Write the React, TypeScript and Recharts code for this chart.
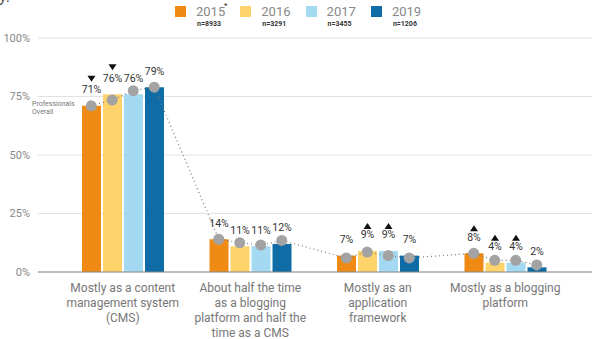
import React from "react";
import {
  ComposedChart,
  Bar,
  Line,
  XAxis,
  YAxis,
  CartesianGrid,
  LabelList,
} from "recharts";

const categories = [
  "Mostly as a content\nmanagement system\n(CMS)",
  "About half the time\nas a blogging\nplatform and half the\ntime as a CMS",
  "Mostly as an\napplication\nframework",
  "Mostly as a blogging\nplatform",
];

const years = ["2015", "2016", "2017", "2019"];
const sampleSizes = ["n=8933", "n=3291", "n=3455", "n=1206"];

const values2015 = [71, 14, 7, 8];
const values2016 = [76, 11, 9, 4];
const values2017 = [76, 11, 9, 4];
const values2019 = [79, 12, 7, 2];

// professionals overall (grey dots)
const overall2015 = [71, 14, 6, 8];
const overall2016 = [73.5, 12.5, 8.5, 5];
const overall2017 = [77.5, 11.5, 7, 5];
const overall2019 = [79, 13.5, 6, 3];

// significance markers above the labels
const markers2015 = ["down", "", "", "up"];
const markers2016 = ["down", "", "up", "up"];
const markers2017 = ["", "", "up", "up"];
const markers2019 = ["", "", "", ""];

const yTicks = [0, 25, 50, 75, 100];

const COLORS = ["#EF8A14", "#FED36B", "#A3DAF1", "#0F6CA6"];

const WIDTH = 600;
const HEIGHT = 339;
const MARGIN = { top: 38, right: 8, left: 0, bottom: 7 };
const Y_AXIS_WIDTH = 38;
const PAD = { left: 21, right: 23 };
const BAR_SIZE = 19;
const BAR_GAP = 2;
const BAND =
  (WIDTH - MARGIN.left - MARGIN.right - Y_AXIS_WIDTH - PAD.left - PAD.right) /
  categories.length;

const barData = categories.map((name, i) => ({
  name,
  y2015: values2015[i],
  y2016: values2016[i],
  y2017: values2017[i],
  y2019: values2019[i],
}));

const overallSeries = [overall2015, overall2016, overall2017, overall2019];
const dotData: { x: number; v: number }[] = [];
categories.forEach((_, g) => {
  overallSeries.forEach((series, s) => {
    dotData.push({
      x: g + 0.5 + ((s - 1.5) * (BAR_SIZE + BAR_GAP)) / BAND,
      v: series[g],
    });
  });
});

function CategoryTick({ x, y, payload }: any) {
  const lines = String(payload.value).split("\n");
  return (
    <text x={x} y={y} textAnchor="middle" fill="#777" fontSize={12}>
      {lines.map((l, i) => (
        <tspan key={i} x={x} dy={i === 0 ? 12 : 15}>
          {l}
        </tspan>
      ))}
    </text>
  );
}

const makeLabel = (markers: string[]) => (props: any) => {
  const x = Number(props.x);
  const y = Number(props.y);
  const w = Number(props.width);
  const cx = x + w / 2;
  const ty = y - 16;
  const m = markers[props.index];
  return (
    <g>
      <text
        x={cx}
        y={ty}
        textAnchor="middle"
        dominantBaseline="central"
        fontSize={10.5}
        fill="#333"
      >
        {props.value}%
      </text>
      {m === "down" && (
        <polygon
          points={`${cx - 4},${ty - 14} ${cx + 4},${ty - 14} ${cx},${ty - 8}`}
          fill="#111"
        />
      )}
      {m === "up" && (
        <polygon
          points={`${cx - 4},${ty - 6} ${cx + 4},${ty - 6} ${cx},${ty - 12}`}
          fill="#111"
        />
      )}
    </g>
  );
};

const seriesKeys = ["y2015", "y2016", "y2017", "y2019"];
const seriesMarkers = [markers2015, markers2016, markers2017, markers2019];

function LegendRow() {
  return (
    <div style={{ position: "absolute", top: 0, left: 175, display: "flex" }}>
      {years.map((yr, i) => (
        <div key={yr} style={{ position: "relative", width: 65.3, height: 32 }}>
          <div
            style={{
              position: "absolute",
              left: 0,
              top: 6,
              width: 11,
              height: 11,
              background: COLORS[i],
            }}
          />
          <div
            style={{
              position: "absolute",
              left: 21,
              top: 3,
              fontSize: 13,
              lineHeight: "18px",
              color: "#888",
            }}
          >
            {yr}
            {i === 0 && (
              <span style={{ position: "absolute", left: 28, top: -6, fontSize: 8, color: "#222" }}>
                *
              </span>
            )}
          </div>
          <div
            style={{
              position: "absolute",
              left: 22,
              top: 20,
              fontSize: 7,
              fontWeight: 700,
              lineHeight: "8px",
              color: "#333",
            }}
          >
            {sampleSizes[i]}
          </div>
        </div>
      ))}
    </div>
  );
}

export default function App() {
  return (
    <div
      style={{
        position: "absolute",
        top: 0,
        left: 0,
        width: WIDTH,
        height: HEIGHT,
        fontFamily: "Roboto, sans-serif",
        background: "#fff",
        overflow: "hidden",
      }}
    >
      <div style={{ position: "absolute", left: -1, top: -13, fontSize: 16, color: "#555" }}>
        y.
      </div>
      <LegendRow />
      <div
        style={{
          position: "absolute",
          left: 32,
          top: 100,
          fontSize: 7,
          lineHeight: "8px",
          color: "#777",
        }}
      >
        Professionals
        <br />
        Overall
      </div>
      <ComposedChart
        width={WIDTH}
        height={HEIGHT}
        data={barData}
        margin={MARGIN}
        barSize={BAR_SIZE}
        barGap={BAR_GAP}
      >
        <CartesianGrid vertical={false} stroke="#e2e2e2" />
        <XAxis
          dataKey="name"
          height={60}
          padding={PAD}
          tickLine={false}
          axisLine={{ stroke: "#888" }}
          tick={<CategoryTick />}
          interval={0}
        />
        <XAxis
          xAxisId="dots"
          dataKey="x"
          type="number"
          domain={[0, 4]}
          padding={PAD}
          hide
        />
        <YAxis
          width={Y_AXIS_WIDTH}
          domain={[0, 100]}
          ticks={yTicks}
          tickFormatter={(v: number) => `${v}%`}
          tick={{ fontSize: 11, fill: "#888" }}
          axisLine={false}
          tickLine={false}
        />
        {seriesKeys.map((k, i) => (
          <Bar key={k} dataKey={k} fill={COLORS[i]} isAnimationActive={false}>
            <LabelList dataKey={k} content={makeLabel(seriesMarkers[i])} />
          </Bar>
        ))}
        <Line
          xAxisId="dots"
          data={dotData}
          dataKey="v"
          stroke="#777"
          strokeWidth={1.2}
          strokeDasharray="1 3"
          dot={{ r: 5.5, fill: "#a3a3a3", stroke: "none" }}
          activeDot={false}
          isAnimationActive={false}
        />
      </ComposedChart>
    </div>
  );
}
